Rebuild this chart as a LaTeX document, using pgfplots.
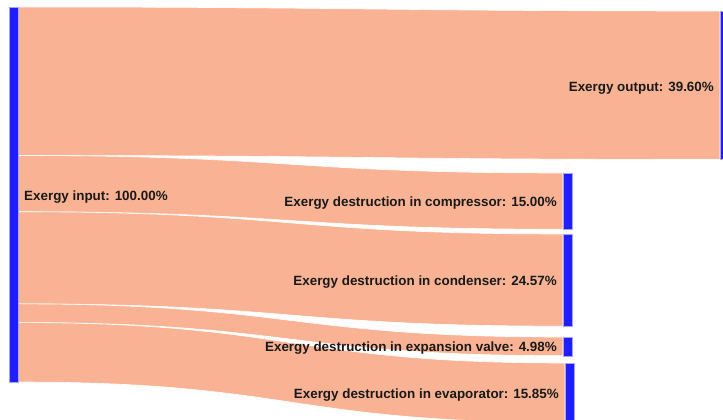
\documentclass[border=0pt]{standalone}
\usepackage{pgfplots}
\usepackage{pgfplotstable}
\pgfplotsset{compat=1.18}
\usepackage{fontspec}
\setmainfont{Liberation Sans}
\definecolor{flowc}{RGB}{249,179,148}
\definecolor{nodec}{RGB}{30,30,255}
\definecolor{txt}{RGB}{25,25,25}
% flows from "Exergy input": value (%), target node left x (px), target node top y (px)
\pgfplotstableread{
value tx  ty
39.60 720 11
15.00 563 173
24.57 563 234
4.98  563 337
15.85 565 363
}\flows
\begin{document}
\begin{tikzpicture}
\useasboundingbox (0,0) rectangle (723pt,420pt);
\begin{axis}[
  at={(0,0)}, anchor=south west,
  scale only axis, width=723pt, height=420pt,
  xmin=0, xmax=723, ymin=0, ymax=420, y dir=reverse,
  hide axis, clip=true,
]
\def\pxper{3.75}
\def\cum{7}
\pgfplotsforeachungrouped \i in {0,...,4}{%
  \pgfplotstablegetelem{\i}{value}\of\flows \let\v\pgfplotsretval
  \pgfplotstablegetelem{\i}{tx}\of\flows \let\tx\pgfplotsretval
  \pgfplotstablegetelem{\i}{ty}\of\flows \let\ty\pgfplotsretval
  \pgfmathsetmacro\sa{\cum}%
  \pgfmathsetmacro\sb{\cum+\v*\pxper}%
  \pgfmathsetmacro\tb{\ty+\v*\pxper}%
  \pgfmathsetmacro\xm{(18+\tx)/2}%
  \pgfmathsetmacro\txb{\tx+9}%
  \edef\temp{%
    \noexpand\fill[flowc, draw=white, line width=0.6pt]
      (axis cs:18,\sa) .. controls (axis cs:\xm,\sa) and (axis cs:\xm,\ty) .. (axis cs:\tx,\ty)
      -- (axis cs:\tx,\tb) .. controls (axis cs:\xm,\tb) and (axis cs:\xm,\sb) .. (axis cs:18,\sb) -- cycle;
    \noexpand\addplot[fill=nodec, draw=nodec!40, line width=0.3pt] coordinates
      {(\tx,\ty) (\txb,\ty) (\txb,\tb) (\tx,\tb)} -- cycle;
  }%
  \temp
  \global\let\cum\sb
}
\addplot[fill=nodec, draw=nodec!40, line width=0.3pt] coordinates {(9,7) (18,7) (18,382) (9,382)} -- cycle;

\tikzset{lab/.style={font=\fontsize{13.4}{15}\selectfont\bfseries, text=txt, inner sep=0pt}}
\node[lab, anchor=west] at (axis cs:24,197) {Exergy input: 100.00\%};
\node[lab, anchor=east] at (axis cs:714,88) {Exergy output: 39.60\%};
\node[lab, anchor=east] at (axis cs:557,203) {Exergy destruction in compressor: 15.00\%};
\node[lab, anchor=east] at (axis cs:557,282) {Exergy destruction in condenser: 24.57\%};
\node[lab, anchor=east] at (axis cs:557,348) {Exergy destruction in expansion valve: 4.98\%};
\node[lab, anchor=east] at (axis cs:559,395) {Exergy destruction in evaporator: 15.85\%};
\end{axis}
\end{tikzpicture}
\end{document}
